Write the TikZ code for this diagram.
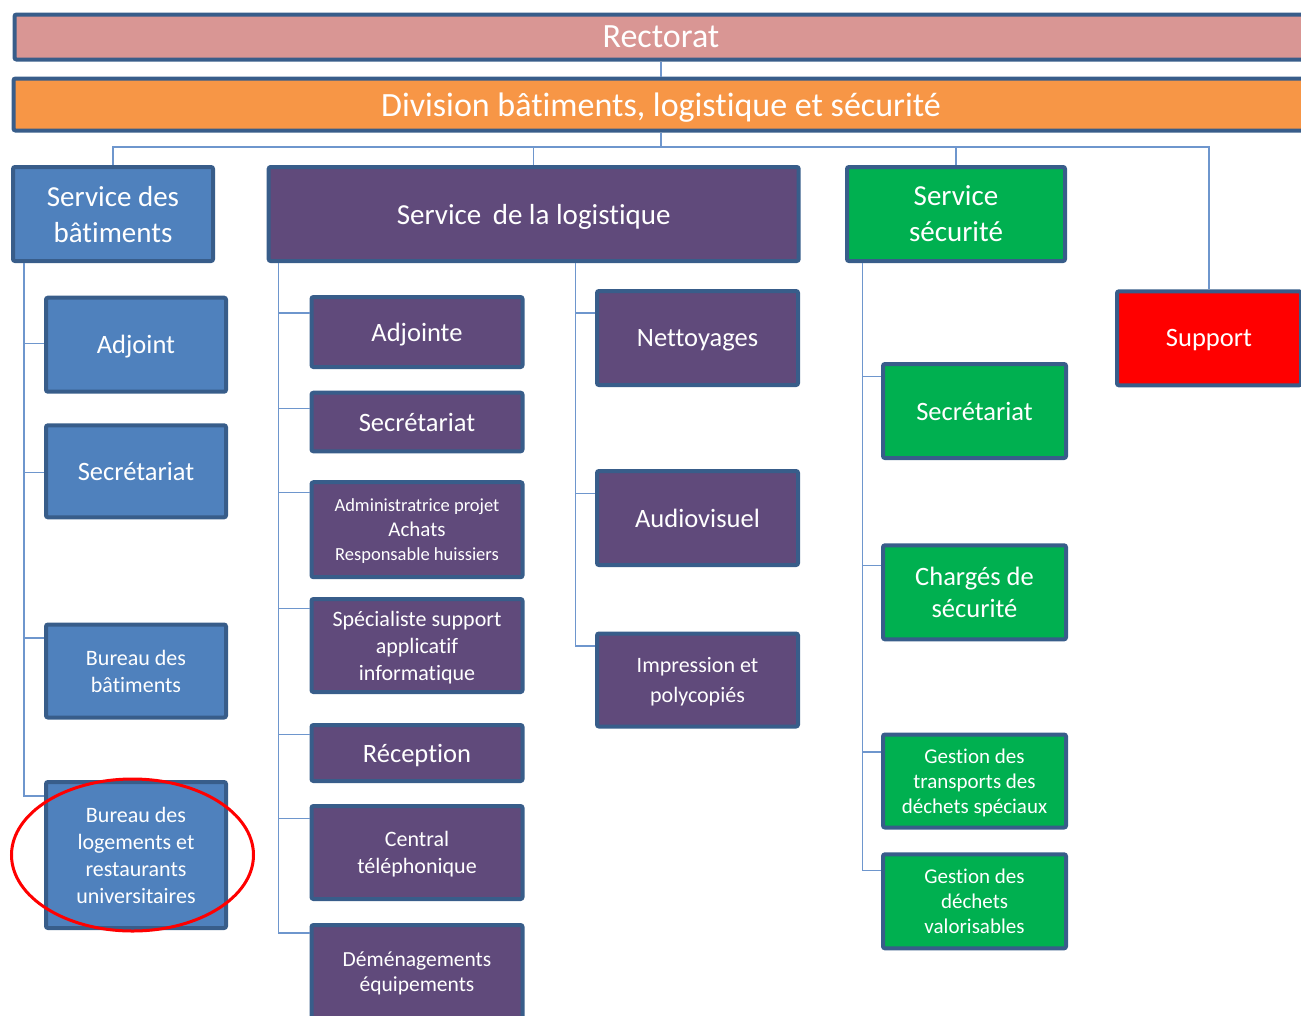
\documentclass[tikz,border=0pt]{standalone}
\usepackage{fontspec}
\setmainfont{Carlito}[Ligatures={NoCommon, NoContextual}]
\usepackage{tikz}
\usetikzlibrary{positioning, calc}
\definecolor{boxline}{RGB}{56,93,138}
\definecolor{linkblue}{RGB}{110,150,205}
\definecolor{rosebar}{RGB}{217,150,148}
\definecolor{orangebar}{RGB}{247,150,70}
\definecolor{batblue}{RGB}{79,129,189}
\definecolor{logpurple}{RGB}{96,74,123}
\definecolor{secgreen}{RGB}{0,176,80}
\definecolor{suppred}{RGB}{255,0,0}
\tikzstyle{link} = [line width=1.5pt, draw=linkblue]
\tikzset{wh/.style 2 args={minimum width=#1pt, minimum height=#2pt}}

\begin{document}
\begin{tikzpicture}[
  x=1pt, y=-1pt,
  every node/.style={text=white, align=center, inner sep=0pt},
  unit/.style={rectangle, draw=boxline, line width=4pt, rounded corners=2pt, text depth=0pt},
  barbox/.style={unit, font=\fontsize{34}{40}\selectfont},
  headbox/.style={unit, font=\fontsize{29}{36}\selectfont},
  bigbox/.style={unit, font=\fontsize{26.5}{32}\selectfont},
  smallbox/.style={unit, font=\fontsize{22}{27}\selectfont},
  circled/.style={draw=red, line width=3pt}
]
\useasboundingbox (0,0) rectangle (1301,1015);
\clip (0,0) rectangle (1301,1015);

% Top levels
\node[barbox, fill=rosebar, wh={1293}{45}] (rect) at (661,37) {Rectorat};
\node[barbox, fill=orangebar, wh={1295}{52}] (div) at (661,104.5) {Division bâtiments, logistique et sécurité};

% Services
\node[headbox, fill=batblue, wh={200}{94}] (bat) at (113,214) {Service des\\bâtiments};
\node[headbox, fill=logpurple, wh={530}{94}] (log) at (533.7,214) {Service\, de la logistique};
\node[headbox, fill=secgreen, wh={218}{94}] (sec) at (956,214) {Service\\sécurité};
\node[bigbox, fill=suppred, wh={184}{94}] (sup) at (1209,338.3) {Support};

% Service des batiments
\node[bigbox, fill=batblue, wh={180}{94}] (adjb) at (136,344.7) {Adjoint};
\node[bigbox, fill=batblue, wh={180}{92}] (secb) at (136,471.3) {Secrétariat};
\node[smallbox, fill=batblue, wh={180}{93}] (burb) at (136,671) {Bureau des\\bâtiments};
\node[smallbox, fill=batblue, wh={180}{146}] (logb) at (136,855) {Bureau des\\logements et\\restaurants\\universitaires};

% Service de la logistique
\node[bigbox, fill=logpurple, wh={211}{70}] (adjl) at (417,332) {Adjointe};
\node[bigbox, fill=logpurple, wh={211}{58.6}] (secl) at (417,422) {Secrétariat};
\node[unit, fill=logpurple, wh={211}{95}, font=\fontsize{21}{24.5}\selectfont] (admin) at (417,529.7)
  {{\fontsize{18.5}{24.5}\selectfont Administratrice projet}\\Achats\\{\fontsize{18.5}{24.5}\selectfont Responsable huissiers}};
\node[smallbox, fill=logpurple, wh={211}{93}] (spec) at (417,645.5) {Spécialiste support\\applicatif\\informatique};
\node[bigbox, fill=logpurple, wh={211}{56}] (recep) at (417,753) {Réception};
\node[smallbox, fill=logpurple, wh={211}{93}] (centr) at (417,852.5) {Central\\téléphonique};
\node[unit, fill=logpurple, wh={211}{94}, font=\fontsize{21.5}{25}\selectfont] (demen) at (417,972) {Déménagements\\équipements};
\node[bigbox, fill=logpurple, wh={201}{94}] (netto) at (697.5,338) {Nettoyages};
\node[bigbox, fill=logpurple, wh={201}{94}] (audio) at (697.5,518) {Audiovisuel};
\node[unit, fill=logpurple, wh={201}{93}, font=\fontsize{22}{30}\selectfont] (impr) at (697.5,680) {Impression et\\polycopiés};

% Service securite
\node[bigbox, fill=secgreen, wh={183}{94}] (secs) at (974.5,411) {Secrétariat};
\node[bigbox, fill=secgreen, wh={183}{94}] (charg) at (974.5,592.3) {Chargés de\\sécurité};
\node[unit, fill=secgreen, wh={183}{93}, font=\fontsize{21}{25}\selectfont] (gtrans) at (974.5,781) {Gestion des\\transports des\\déchets spéciaux};
\node[unit, fill=secgreen, wh={183}{94}, font=\fontsize{21}{25}\selectfont] (gdech) at (974.5,901.3) {Gestion des\\déchets\\valorisables};

% Links
\draw[link] (rect) -- (div);
\foreach \h in {bat, log, sec, sup}
  \draw[link] (div.south) -- ++(0,14.5) -| (\h.north);
\foreach \c/\d in {adjb/47.6, secb/49, burb/15.6, logb/16}
  \draw[link] ($(bat.south west)+(13,0)$) |- ($(\c.north west)+(0,\d)$);
\foreach \c/\d in {adjl/18, secl/17.6, admin/12.4, spec/11.6, recep/11.3, centr/14.3, demen/10}
  \draw[link] ($(log.south west)+(11.6,0)$) |- ($(\c.north west)+(0,\d)$);
\foreach \c/\d in {netto/24, audio/24.4, impr/14.7}
  \draw[link] ($(log.south)+(41.6,0)$) |- ($(\c.north west)+(0,\d)$);
\foreach \c/\d in {secs/14.4, charg/22.4, gtrans/19.6, gdech/18.3}
  \draw[link] ($(sec.south west)+(17.7,0)$) |- ($(\c.north west)+(0,\d)$);

% Highlight
\draw[circled] ($(logb.center)+(-3.5,0)$) ellipse [x radius=121pt, y radius=76pt];

\end{tikzpicture}
\end{document}
